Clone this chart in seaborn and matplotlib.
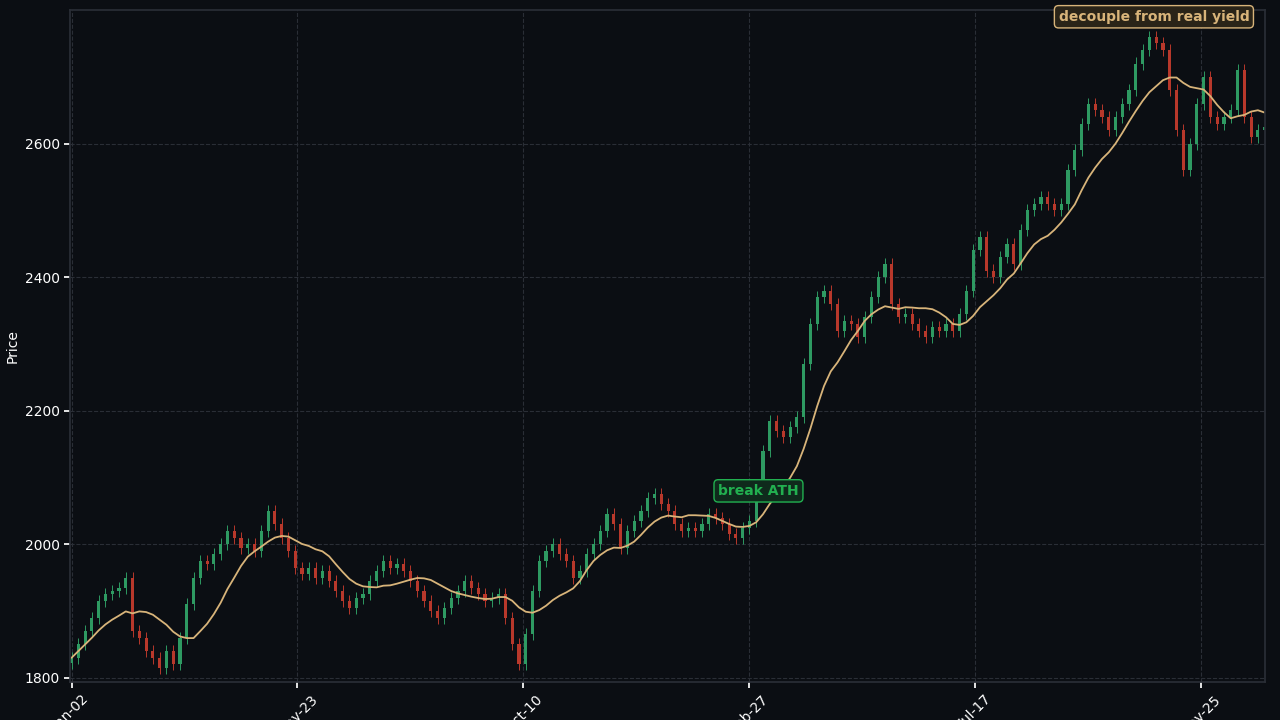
import numpy as np
import pandas as pd
import matplotlib.pyplot as plt
import seaborn as sns

# closes sampled every 3 trading bars
closes = [1830, 1850, 1870, 1890, 1915, 1925, 1930, 1935, 1950, 1870, 1860, 1840, 1830, 1815, 1840,
          1820, 1860, 1910, 1950, 1975, 1970, 1985, 2000, 2020, 2010, 1995, 2000, 1990, 2020, 2050,
          2030, 2010, 1990, 1965, 1955, 1965, 1950, 1960, 1945, 1930, 1915, 1905, 1920, 1925, 1945,
          1960, 1975, 1965, 1970, 1960, 1945, 1930, 1915, 1900, 1890, 1905, 1920, 1930, 1945, 1935,
          1925, 1915, 1920, 1925, 1890, 1850, 1820, 1865, 1930, 1975, 1990, 2000, 1985, 1975, 1950,
          1960, 1985, 2000, 2020, 2045, 2030, 1995, 2020, 2035, 2050, 2070, 2075, 2060, 2050, 2030,
          2020, 2025, 2020, 2030, 2045, 2040, 2030, 2015, 2010, 2025, 2035, 2080, 2140, 2185, 2170,
          2160, 2175, 2190, 2270, 2330, 2370, 2380, 2360, 2320, 2335, 2330, 2310, 2340, 2370, 2400,
          2420, 2360, 2340, 2345, 2330, 2320, 2310, 2325, 2320, 2330, 2320, 2345, 2380, 2440, 2460,
          2410, 2400, 2430, 2450, 2420, 2470, 2500, 2510, 2520, 2510, 2500, 2510, 2560, 2590, 2630,
          2660, 2650, 2640, 2620, 2640, 2660, 2680, 2720, 2740, 2760, 2750, 2740, 2680, 2620, 2560,
          2600, 2660, 2700, 2640, 2630, 2640, 2650, 2710, 2640, 2610, 2620, 2625]
opens = [1822] + closes[:-1]
tick_pos = [0, 100, 200, 300, 400, 500]
tick_labels = ["Jan-02", "May-23", "Oct-10", "Feb-27", "Jul-17", "Nov-25"]

df = pd.DataFrame({"x": np.arange(len(closes)) * 3, "open": opens, "close": closes})
df["up"] = df["close"] >= df["open"]
df["ma"] = df["close"].rolling(10, min_periods=1).mean()

bg = "#0b0e13"
green, red, gold = "#2e9a62", "#b8382b", "#d8b47a"
sns.set_theme(style="dark")
plt.rcParams["font.family"] = ["DejaVu Sans"]

fig, ax = plt.subplots(figsize=(12.8, 7.2), dpi=100)
fig.patch.set_facecolor(bg)
ax.set_facecolor(bg)
fig.subplots_adjust(left=0.055, right=0.988, top=0.986, bottom=0.053)

for _, r in df.iterrows():
    c = green if r["up"] else red
    lo, hi = min(r["open"], r["close"]), max(r["open"], r["close"])
    ax.vlines(r["x"], lo - 9, hi + 9, color=c, lw=0.7)
    ax.bar(r["x"], max(hi - lo, 1.5), bottom=lo, width=1.4, color=c, lw=0)
sns.lineplot(data=df, x="x", y="ma", ax=ax, color=gold, lw=1.3)

ax.set_xlim(-0.5, 528)
ax.set_ylim(1794, 2800)
ax.set_xticks(tick_pos)
ax.set_xticklabels(tick_labels, rotation=45, color="white", fontsize=10)
ax.set_yticks([1800, 2000, 2200, 2400, 2600])
ax.tick_params(colors="white", length=4, labelsize=10)
ax.tick_params(axis="both", which="both", bottom=True, left=True)
ax.set_xlabel("")
ax.set_ylabel("Price", color="white", fontsize=10)
ax.grid(True, color="#2a2e36", ls="--", lw=0.8)
for s in ax.spines.values():
    s.set_color("#2a2e36")

ax.text(304, 2080, "break ATH", color="#22b050", fontweight="bold", fontsize=10,
        ha="center", va="center",
        bbox=dict(boxstyle="round,pad=0.3", fc="#0f2a1c", ec="#22b050", lw=1))
ax.text(479, 2790, "decouple from real yield", color="#d8b47a", fontweight="bold", fontsize=10,
        ha="center", va="center",
        bbox=dict(boxstyle="round,pad=0.3", fc="#2a2418", ec="#d8b47a", lw=1))

fig.savefig("out.png", facecolor=bg)
